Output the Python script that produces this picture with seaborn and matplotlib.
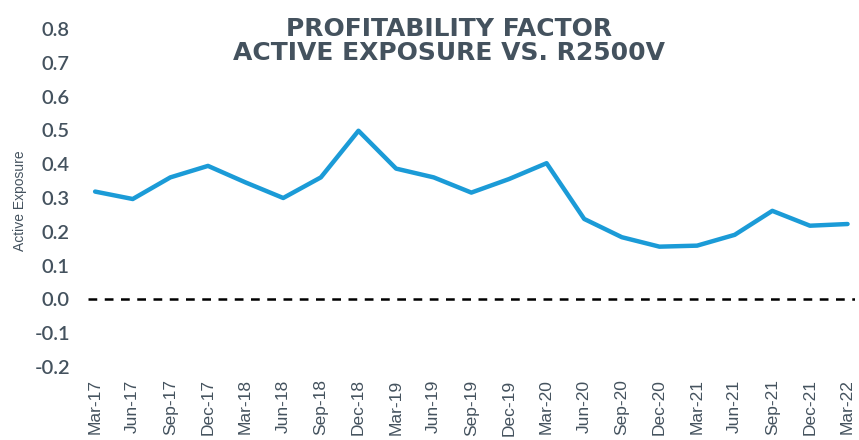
import numpy as np
import pandas as pd
import matplotlib
matplotlib.use("Agg")
import matplotlib.pyplot as plt
import seaborn as sns

# 季度标签与主动暴露值
quarters = ["Mar-17", "Jun-17", "Sep-17", "Dec-17", "Mar-18", "Jun-18", "Sep-18",
            "Dec-18", "Mar-19", "Jun-19", "Sep-19", "Dec-19", "Mar-20", "Jun-20",
            "Sep-20", "Dec-20", "Mar-21", "Jun-21", "Sep-21", "Dec-21", "Mar-22"]
exposure = [0.319, 0.297, 0.361, 0.395, 0.346, 0.300, 0.361,
            0.499, 0.387, 0.361, 0.316, 0.356, 0.403, 0.238,
            0.184, 0.156, 0.159, 0.191, 0.262, 0.218, 0.223]
y_ticks = [-0.2, -0.1, 0.0, 0.1, 0.2, 0.3, 0.4, 0.5, 0.6, 0.7, 0.8]

df = pd.DataFrame({"pos": np.arange(len(quarters)), "quarter": quarters, "exposure": exposure})

sns.set_style("white")
plt.rcParams['font.family'] = ['Liberation Sans', 'DejaVu Sans']
text_color = "#44525e"

fig = plt.figure(figsize=(8.59, 4.40), dpi=100)
ax = fig.add_axes([0.1024, 0.166, 0.8926, 0.768])

sns.lineplot(data=df, x="pos", y="exposure", color="#1b9bd7", linewidth=3.2, ax=ax)
ax.axhline(0, color="black", linestyle=(0, (3.5, 3.0)), linewidth=1.8)

ax.set_xlim(-0.19, len(quarters) - 1 + 0.19)
ax.set_ylim(-0.2, 0.8)
ax.set_xticks(df["pos"])
ax.set_xticklabels(quarters, rotation=90, fontsize=12.5, color=text_color)
ax.set_yticks(y_ticks)
ax.set_yticklabels([f"{v:.1f}" for v in y_ticks], fontsize=14.5, color=text_color,
                   family=['Lato', 'DejaVu Sans'], fontweight='semibold')
ax.tick_params(axis='y', length=0, pad=13)
ax.tick_params(axis='x', length=0, pad=9)
for s in ax.spines.values():
    s.set_visible(False)
ax.set_xlabel("")
ax.set_ylabel("")

fig.text(0.023, 0.545, "Active Exposure", rotation=90, ha="center", va="center",
         fontsize=10, color=text_color)
fig.text(0.523, 0.907, "PROFITABILITY FACTOR\nACTIVE EXPOSURE VS. R2500V", ha="center", va="center",
         fontsize=18, color=text_color, linespacing=1.0, family=['DejaVu Sans'],
         fontweight='bold')

fig.savefig("out.png", dpi=100)
